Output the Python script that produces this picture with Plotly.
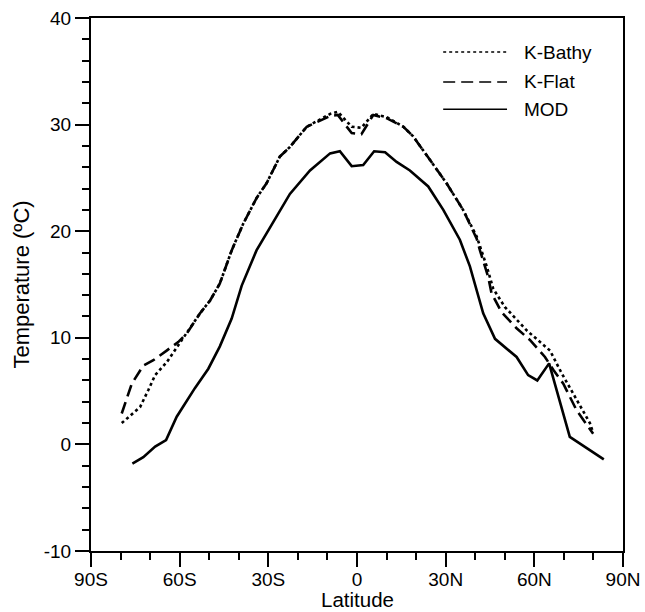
import plotly.graph_objects as go

mod_lat = [-76, -72.3, -68.3, -64.6, -61, -54.8, -50.3, -46.4, -42.4, -39, -34, -29.4, -22.7, -15.9,
           -9.1, -5.8, -1.8, 2.1, 5.8, 9.5, 13.4, 17.9, 24.1, 29.2, 34.8, 38.2, 42.7, 46.7, 54, 57.9,
           61, 65, 68.1, 72, 83.5]
mod_t = [-1.8, -1.2, -0.2, 0.4, 2.6, 5.3, 7.1, 9.2, 11.8, 14.9, 18.2, 20.4, 23.5, 25.7,
         27.3, 27.5, 26.1, 26.2, 27.5, 27.4, 26.5, 25.7, 24.2, 22.0, 19.2, 16.7, 12.3, 9.9, 8.2, 6.5,
         6.0, 7.6, 4.5, 0.7, -1.4]

bathy_lat = [-79.6, -73.4, -70.6, -68.3, -64.4, -59.9, -57.6, -53.1, -49.7, -46.4, -42.4, -38.5, -34,
             -30.6, -26.1, -22.7, -17, -9.1, -6.5, -1.8, 1.5, 5.5, 10, 15.7, 19, 24.7, 30.3, 35.9,
             40.5, 43.9, 46.1, 50, 57.4, 65.3, 69.2, 78.8, 79.9]
bathy_t = [2.0, 3.5, 5.1, 6.5, 7.7, 9.5, 10.4, 12.3, 13.5, 15.1, 18.2, 20.7, 23.1,
           24.5, 27.0, 27.9, 29.8, 31.0, 31.2, 29.8, 29.7, 31.0, 30.7, 29.8, 28.9, 26.7, 24.5, 22.0,
           19.5, 16.7, 14.6, 12.9, 10.7, 8.8, 6.7, 2.0, 1.1]

flat_lat = [-79.6, -76.2, -72.3, -68.9, -64.4, -60.5, -57.6, -53.1, -49.7, -46.4, -42.4, -38.5, -34,
            -30.6, -26.1, -22.7, -17, -9.1, -6.5, -1.8, 1.5, 5.5, 10, 15.7, 19, 24.7, 30.3, 35.9,
            40.5, 41.6, 44.4, 45.5, 48.9, 54, 58.5, 63.6, 66.4, 69.8, 74.3, 79.9]
flat_t = [2.9, 5.7, 7.4, 7.9, 8.8, 9.6, 10.4, 12.3, 13.5, 15.1, 18.2, 20.7, 23.1,
          24.5, 27.0, 27.9, 29.8, 30.8, 30.9, 29.2, 29.1, 30.9, 30.6, 29.8, 28.9, 26.7, 24.5, 22.0,
          19.3, 18.2, 15.7, 14.2, 12.4, 10.9, 9.8, 8.2, 7.0, 5.7, 3.2, 1.0]

x_tickvals = [-90, -60, -30, 0, 30, 60, 90]
x_ticktext = ["90S", "60S", "30S", "0", "30N", "60N", "90N"]
y_tickvals = [-10, 0, 10, 20, 30, 40]
y_ticktext = ["-10", "0", "10", "20", "30", "40"]

series = [
    ("K-Bathy", bathy_lat, bathy_t, "3px,3px"),
    ("K-Flat", flat_lat, flat_t, "12px,6px"),
    ("MOD", mod_lat, mod_t, "solid"),
]
legend_dash = ["3px,3px", "12px,6px", "solid"]

FONT = "Liberation Sans, Arial, sans-serif"

fig = go.Figure()
for name, xs, ys, dash in series:
    fig.add_trace(go.Scatter(x=xs, y=ys, mode="lines", name=name,
                             line=dict(color="black", width=2.6, dash=dash)))

# manual legend
leg_y = [0.936, 0.880, 0.829]
for (name, _, _, _), dash, yy in zip(series, legend_dash, leg_y):
    fig.add_shape(type="line", xref="paper", yref="paper", x0=0.662, x1=0.782, y0=yy, y1=yy,
                  line=dict(color="black", width=1.5, dash=dash))
    fig.add_annotation(xref="paper", yref="paper", x=0.81, y=yy, text=name, showarrow=False,
                       xanchor="left", yanchor="middle",
                       font=dict(family=FONT, size=19, color="black"))

# x-axis title
fig.add_annotation(xref="paper", yref="paper", x=0.5, y=-0.1144, text="Latitude", showarrow=False,
                   xanchor="center", yanchor="bottom", borderpad=0,
                   font=dict(family=FONT, size=20.5, color="black"))

axis_common = dict(showgrid=False, zeroline=False, showline=True, linecolor="black", linewidth=2,
                   mirror=True, ticks="outside", ticklen=14, tickwidth=2, tickcolor="black",
                   automargin=False,
                   tickfont=dict(family=FONT, size=19, color="black"))

fig.update_xaxes(range=[-90, 90], tickvals=x_tickvals, ticktext=x_ticktext, ticklabelstandoff=-4,
                 minor=dict(dtick=10, ticklen=7, tickwidth=2, tickcolor="black", ticks="outside"),
                 **axis_common)
fig.update_yaxes(range=[-10, 40], tickvals=y_tickvals, ticktext=y_ticktext,
                 minor=dict(dtick=2, ticklen=7, tickwidth=2, tickcolor="black", ticks="outside"),
                 title=dict(text="Temperature (ºC)", standoff=8,
                            font=dict(family=FONT, size=22, color="black")),
                 **axis_common)

fig.update_layout(width=645, height=612, showlegend=False,
                  margin=dict(l=91, r=22, t=18, b=61),
                  plot_bgcolor="white", paper_bgcolor="white")

fig.write_html("out.html")
